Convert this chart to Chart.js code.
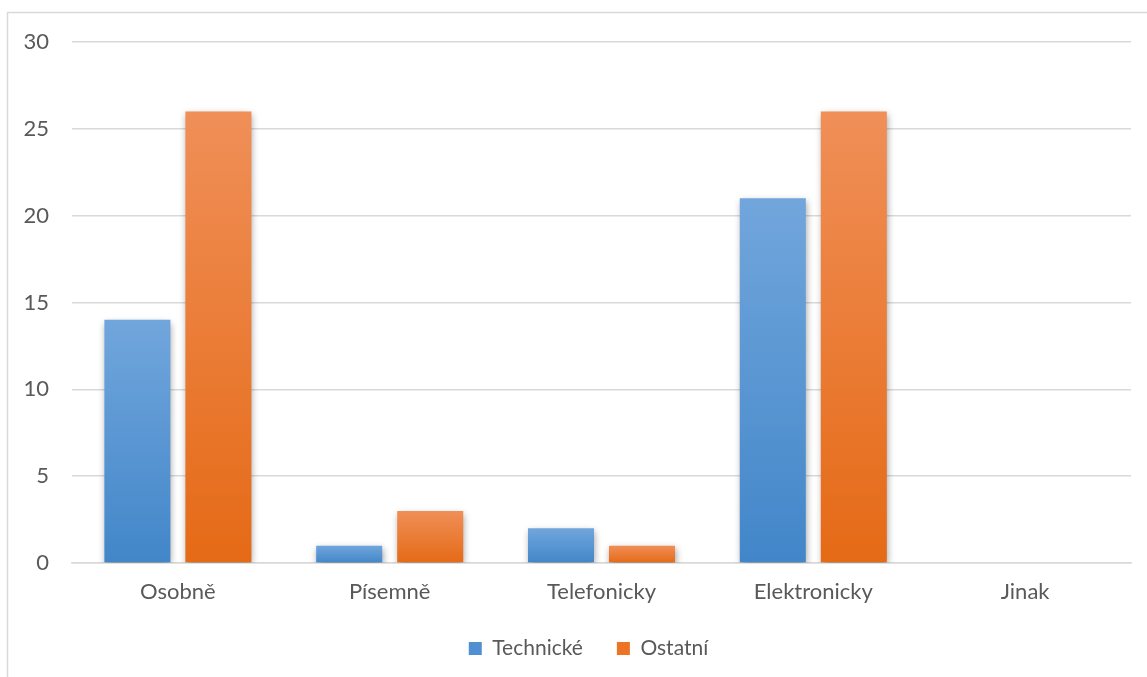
<!DOCTYPE html>
<html>
<head>
<meta charset="utf-8">
<script src="https://cdn.jsdelivr.net/npm/chart.js@4.4.1/dist/chart.umd.min.js"></script>
<style>
  html, body { margin: 0; padding: 0; background: #fff; }
  #wrap { position: relative; width: 1147px; height: 677px; }
</style>
</head>
<body>
<div id="wrap"><canvas id="c" width="1147" height="677"></canvas></div>
<script>
const categories = ['Osobně', 'Písemně', 'Telefonicky', 'Elektronicky', 'Jinak'];
const technicke = [14, 1, 2, 21, 0];
const ostatni = [26, 3, 1, 26, 0];
const yTicks = [0, 5, 10, 15, 20, 25, 30];

const FONT = 'Lato, "Open Sans", sans-serif';
const FS = 22;
const TEXT = '#595959';

// vertical gradient spanning each bar's own height
function barGradient(top, bottom) {
  return function (ctx) {
    const chart = ctx.chart;
    const y = chart.scales && chart.scales.y;
    if (!y || !chart.chartArea || ctx.type !== 'data') return bottom;
    const v = ctx.raw || 0;
    const yTop = y.getPixelForValue(v);
    const yBot = y.getPixelForValue(0);
    if (yBot - yTop < 1) return bottom;
    const g = chart.ctx.createLinearGradient(0, yTop, 0, yBot);
    g.addColorStop(0, top);
    g.addColorStop(1, bottom);
    return g;
  };
}

// soft drop shadow under the bars
const barShadow = {
  id: 'barShadow',
  beforeDatasetsDraw(chart) {
    const c = chart.ctx;
    c.save();
    c.shadowColor = 'rgba(0,0,0,0.38)';
    c.shadowBlur = 7;
    c.shadowOffsetX = 1;
    c.shadowOffsetY = 3;
  },
  afterDatasetsDraw(chart) {
    chart.ctx.restore();
  }
};

// outer frame (top and left edges only)
const frame = {
  id: 'frame',
  beforeDraw(chart) {
    const c = chart.ctx;
    c.save();
    c.strokeStyle = '#d9d9d9';
    c.lineWidth = 1.5;
    c.beginPath();
    c.moveTo(7.5, 677);
    c.lineTo(7.5, 12.5);
    c.lineTo(1147, 12.5);
    c.stroke();
    c.restore();
  }
};

// let tick labels extend beyond the compact axis boxes without being clipped
const labelRoom = {
  id: 'labelRoom',
  afterLayout(chart) {
    chart.scales.x.bottom += 20;
    chart.scales.y.left = 0;
  }
};

new Chart(document.getElementById('c'), {
  type: 'bar',
  data: {
    labels: categories,
    datasets: [
      {
        label: 'Technické',
        data: technicke,
        backgroundColor: barGradient('#71a6dc', '#4286c9'),
        categoryPercentage: 0.765,
        barPercentage: 0.815
      },
      {
        label: 'Ostatní',
        data: ostatni,
        backgroundColor: barGradient('#f08f58', '#e56a16'),
        categoryPercentage: 0.765,
        barPercentage: 0.815
      }
    ]
  },
  options: {
    responsive: false,
    animation: false,
    devicePixelRatio: 1,
    layout: { padding: { left: 46, right: 16, top: 42, bottom: 8 } },
    plugins: {
      tooltip: { enabled: false },
      legend: {
        position: 'bottom',
        labels: {
          font: { family: FONT, size: 21 },
          color: TEXT,
          boxWidth: 13,
          boxHeight: 13,
          padding: 34,
          generateLabels(chart) {
            const cols = ['#4f8fd2', '#ec7424'];
            return chart.data.datasets.map((d, i) => ({
              text: d.label,
              fillStyle: cols[i],
              strokeStyle: cols[i],
              lineWidth: 0,
              fontColor: TEXT,
              datasetIndex: i,
              hidden: false
            }));
          }
        }
      }
    },
    scales: {
      x: {
        afterFit(scale) { scale.height = 41; },
        grid: { display: false, drawTicks: false },
        border: { display: true, color: '#d9d9d9', width: 1.5 },
        ticks: { font: { family: FONT, size: FS }, color: TEXT, padding: 16 }
      },
      y: {
        min: 0,
        max: 30,
        afterBuildTicks(scale) { scale.ticks = yTicks.map(v => ({ value: v })); },
        afterFit(scale) { scale.width = 26; },
        grid: { color: '#d9d9d9', lineWidth: 1.5, drawTicks: false },
        border: { display: false },
        ticks: { font: { family: FONT, size: FS }, color: TEXT, padding: 23 }
      }
    }
  },
  plugins: [frame, barShadow, labelRoom]
});
</script>
</body>
</html>
